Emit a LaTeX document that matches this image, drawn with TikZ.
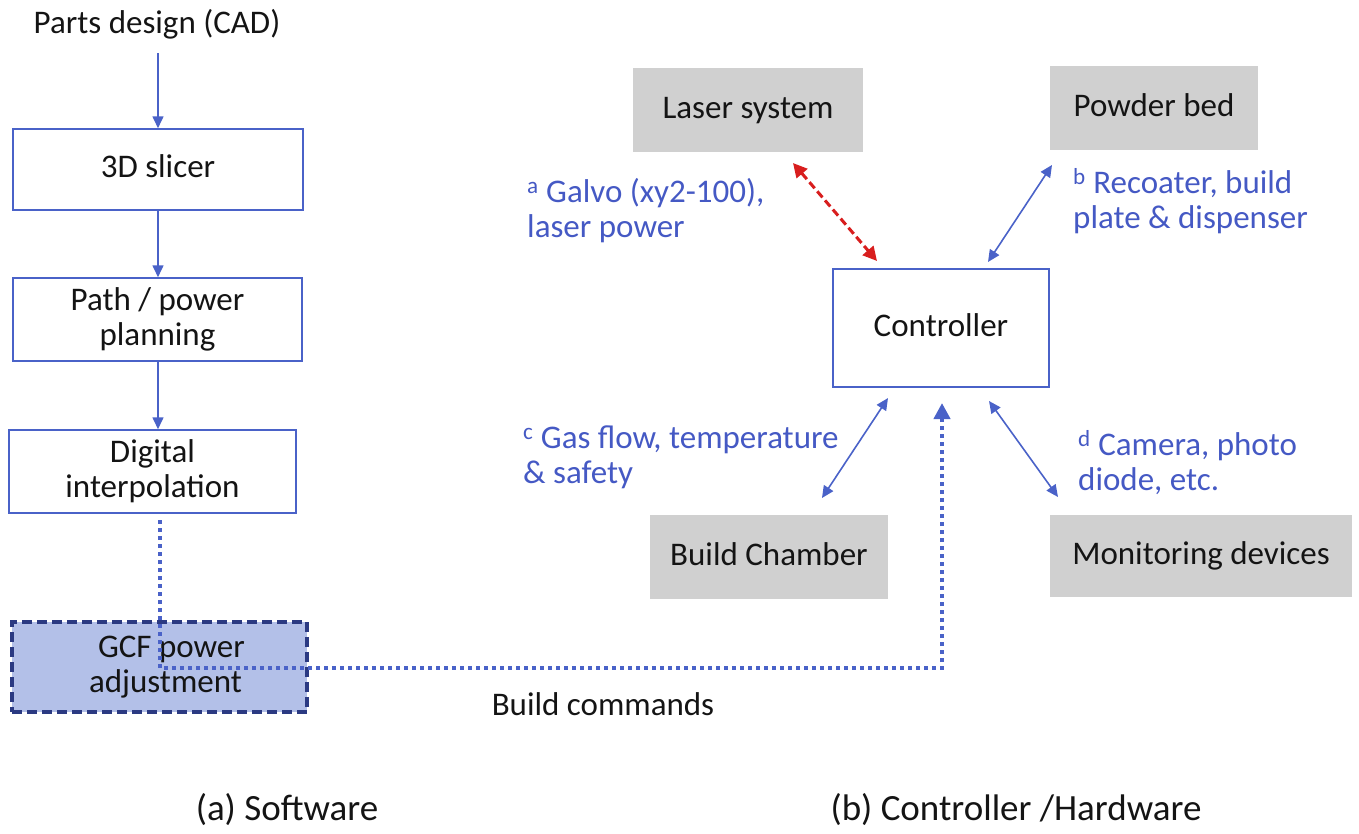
\documentclass[tikz,border=0pt]{standalone}
\usepackage{fontspec}
\setmainfont{Carlito}
\usetikzlibrary{arrows.meta,calc}
\definecolor{lineblue}{HTML}{4A62C8}
\definecolor{textblue}{HTML}{4559C4}
\definecolor{boxgray}{HTML}{D0D0D0}
\definecolor{gcffill}{HTML}{B3C0E8}
\definecolor{gcfborder}{HTML}{2B3A82}
\definecolor{arrred}{HTML}{D81E1E}
\definecolor{inkblack}{HTML}{141414}
\begin{document}
\begin{tikzpicture}[x=1pt,y=-1pt,
  font=\fontsize{33}{35}\selectfont,
  every node/.style={text=inkblack, inner sep=0pt},
  swbox/.style={draw=lineblue, line width=1.5pt, fill=white, align=center},
  hwbox/.style={fill=boxgray, align=center},
  onel/.style={text height=24pt, text depth=8pt},
  gcfbox/.style={draw=gcfborder, fill=gcffill, line width=3.5pt, dash pattern=on 10pt off 5pt, align=center},
  lbl/.style={text=textblue, align=left, anchor=north west},
  captxt/.style={anchor=base, font=\fontsize{37}{40}\selectfont},
  arr/.style={draw=lineblue, line width=1.6pt, -{Triangle[length=12pt,width=11pt]}},
  darr/.style={draw=lineblue, line width=1.6pt, {Triangle[length=12pt,width=11pt]}-{Triangle[length=12pt,width=11pt]}},
  redarr/.style={draw=arrred, line width=3pt, dash pattern=on 8pt off 4pt, {Triangle[length=14pt,width=14pt]}-{Triangle[length=14pt,width=14pt]}},
  dotarr/.style={draw=lineblue, line width=4pt, dash pattern=on 4pt off 4pt, -{Triangle[length=16pt,width=16pt]}}
]
\useasboundingbox (0,0) rectangle (1359,833);

% ---------- software chain ----------
\node[anchor=base] (cad) at (157,33) {Parts design (CAD)};
\node[swbox, onel, minimum width=290pt, minimum height=81pt] (slicer) at (158,169.5) {3D slicer};
\node[swbox, minimum width=289pt, minimum height=83pt] (path) at (157.5,319.5) {Path / power\\planning};
\node[swbox, minimum width=287pt, minimum height=83pt] (digital) at (152.5,471.5) {Digital\\interpolation};
\node[gcfbox, minimum width=295pt, minimum height=90pt] (gcf) at (159.5,667) {\hspace*{24pt}GCF power\\\hspace*{12pt}adjustment};

\coordinate (cadend) at (158,53);
\coordinate (slicerout) at (158,210);
\coordinate (pathout) at (158,361);
\draw[arr] (cadend) -- (cadend |- slicer.north);
\draw[arr] (slicerout) -- (slicerout |- path.north);
\draw[arr] (pathout) -- (pathout |- digital.north);

% ---------- hardware ----------
\node[hwbox, onel, minimum width=230pt, minimum height=84pt] (laser) at (748,110) {Laser system};
\node[hwbox, onel, minimum width=208pt, minimum height=84pt] (powder) at (1154,108) {Powder bed};
\node[swbox, onel, minimum width=216pt, minimum height=118pt] (ctrl) at (941,328) {Controller};
\node[hwbox, onel, minimum width=238pt, minimum height=84pt] (chamber) at (769,557) {Build Chamber};
\node[hwbox, onel, minimum width=302pt, minimum height=82pt] (monitor) at (1201,556) {Monitoring devices};

% connector ends
\coordinate (la) at (793,163);
\coordinate (lc) at (877,261);
\coordinate (pa) at (1052,165);
\coordinate (pc) at (988,262);
\coordinate (ca) at (822,498);
\coordinate (cc) at (888,398);
\coordinate (ma) at (1058,497);
\coordinate (mc) at (989,401);

\draw[redarr] (la) -- (lc);
\draw[darr] (pc) -- (pa);
\draw[darr] (cc) -- (ca);
\draw[darr] (mc) -- (ma);

% labels
\node[lbl] (lbla) at (527,177.5) {\strut\textsuperscript{a} Galvo (xy2-100),\\\strut laser power};
\node[lbl] (lblb) at (1073,168.5) {\strut\textsuperscript{b} Recoater, build\\\strut plate \& dispenser};
\node[lbl] (lblc) at (523,423.5) {\strut\textsuperscript{c} Gas flow, temperature\\\strut \& safety};
\node[lbl] (lbld) at (1078,430.5) {\strut\textsuperscript{d} Camera, photo\\\strut diode, etc.};

% build commands path
\coordinate (dstart) at (160,520);
\coordinate (gcfjoin) at (160,668);
\coordinate (ctrlin) at (942,403);
\draw[dotarr] (dstart) -- (gcfjoin) -- (gcfjoin -| ctrlin) -- (ctrlin);
\node[anchor=base] (bc) at (603,715) {Build commands};

% captions
\node[captxt] (capa) at (287,820) {(a) Software};
\node[captxt] (capb) at (1016,820) {(b) Controller /Hardware};
\end{tikzpicture}
\end{document}
